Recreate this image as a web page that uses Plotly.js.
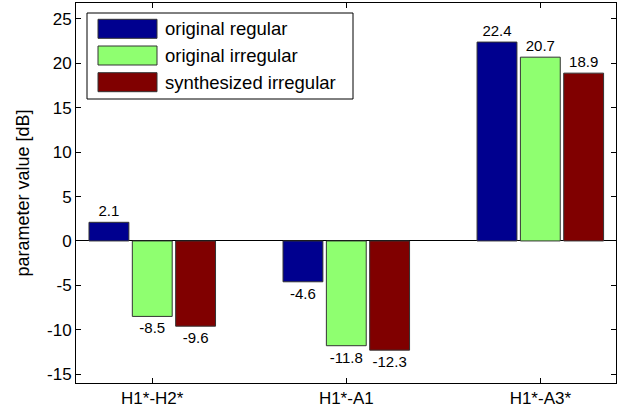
<!DOCTYPE html>
<html>
<head>
<meta charset="utf-8">
<script src="https://cdn.plot.ly/plotly-3.0.1.min.js"></script>
<style>html,body{margin:0;padding:0;background:#fff;}#chart{width:627px;height:411px;}</style>
</head>
<body>
<div id="chart"></div>
<script>
const categories = ["H1*-H2*", "H1*-A1", "H1*-A3*"];
const seriesNames = ["original regular", "original irregular", "synthesized irregular"];
const originalRegular = [2.1, -4.6, 22.4];
const originalIrregular = [-8.5, -11.8, 20.7];
const synthesizedIrregular = [-9.6, -12.3, 18.9];
const yTicks = [-15, -10, -5, 0, 5, 10, 15, 20, 25];
const colors = ["#00008F", "#8FFF70", "#800000"];

const series = [originalRegular, originalIrregular, synthesizedIrregular];
const FONT = "'Liberation Sans', Arial, Helvetica, sans-serif";

const traces = series.map((vals, i) => ({
  type: "bar",
  name: seriesNames[i],
  x: categories,
  y: vals,
  text: vals.map(v => v.toFixed(1)),
  textposition: "outside",
  textfont: {family: FONT, size: 15, color: "#000"},
  cliponaxis: false,
  marker: {color: colors[i], line: {color: "#333", width: 1}},
  showlegend: false,
  hoverinfo: "skip"
}));

// legend drawn as paper-space shapes + annotations
const L = 76, R = 616, T = 3, B = 383;
const px = v => (v - L) / (R - L);
const py = v => (B - v) / (B - T);
const shapes = [{
  type: "rect", xref: "paper", yref: "paper",
  x0: px(87), x1: px(353), y0: py(99), y1: py(13),
  line: {color: "#000", width: 1}, fillcolor: "#fff", layer: "above"
}];
const annotations = [];
const rowTop = [19.3, 46, 72.7];
seriesNames.forEach((n, i) => {
  shapes.push({
    type: "rect", xref: "paper", yref: "paper",
    x0: px(98), x1: px(157), y0: py(rowTop[i] + 19), y1: py(rowTop[i]),
    line: {color: "#333", width: 1}, fillcolor: colors[i], layer: "above"
  });
  annotations.push({
    xref: "paper", yref: "paper", x: px(163), y: py(rowTop[i] + 9.5),
    xanchor: "left", yanchor: "middle", showarrow: false,
    text: n, font: {family: FONT, size: 18.5, color: "#000"}
  });
});

const layout = {
  width: 627, height: 411,
  margin: {l: 76, r: 11, t: 3, b: 28},
  paper_bgcolor: "#fff", plot_bgcolor: "#fff",
  font: {family: FONT, size: 16, color: "#000"},
  barmode: "group",
  bargap: 0.33,
  bargroupgap: 0.08,
  xaxis: {
    type: "category",
    range: [-0.393, 2.39],
    showline: true, linecolor: "#000", linewidth: 1, mirror: "ticks",
    ticks: "inside", ticklen: 5, tickcolor: "#000",
    showgrid: false, zeroline: false,
    tickfont: {family: FONT, size: 17, color: "#000"}
  },
  yaxis: {
    range: [-16, 26.8],
    tickvals: yTicks,
    ticktext: yTicks.map(String),
    showline: true, linecolor: "#000", linewidth: 1, mirror: "ticks",
    ticks: "inside", ticklen: 5, tickcolor: "#000",
    showgrid: false,
    zeroline: true, zerolinecolor: "#000", zerolinewidth: 1,
    tickfont: {family: FONT, size: 17, color: "#000"},
    title: {text: "parameter value [dB]", font: {family: FONT, size: 18, color: "#000"}, standoff: 12}
  },
  shapes: shapes,
  annotations: annotations
};

Plotly.newPlot("chart", traces, layout, {staticPlot: true, displayModeBar: false});
</script>
</body>
</html>
